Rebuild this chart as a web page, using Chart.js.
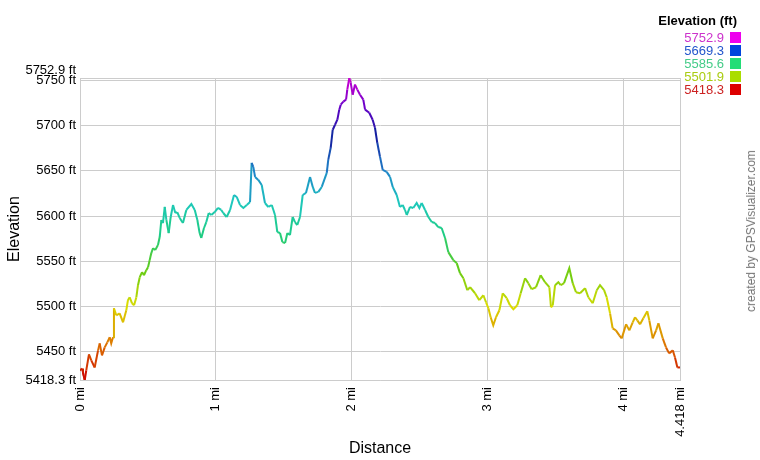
<!DOCTYPE html>
<html>
<head>
<meta charset="utf-8">
<script src="https://cdn.jsdelivr.net/npm/chart.js@4"></script>
<style>
    body { margin: 0; background: #fff; font-family: "Liberation Sans", Arial, sans-serif; }
    #wrap { position: relative; width: 760px; height: 460px; }
    #legend { position: absolute; right: 19px; top: 13px; text-align: right; font-size: 13px; }
    #legend .title { font-weight: bold; color: #000; margin-bottom: 3px; margin-right: 4px; }
    #legend .row { height: 13px; line-height: 13px; }
    #legend .sw { display: inline-block; width: 11px; height: 11px; margin-left: 6px; vertical-align: -1px; }
    #credit { position: absolute; left: 751px; top: 231px; transform: translate(-50%, -50%) rotate(-90deg);
        white-space: nowrap; font-size: 12px; color: #777; }
</style>
</head>
<body>
<div id="wrap">
    <canvas id="chart" width="760" height="460"></canvas>
    <div id="legend"><div class="title">Elevation (ft)</div></div>
    <div id="credit">created by GPSVisualizer.com</div>
</div>
<script>
// distance (mi) and elevation (ft)
const distances = [
    0.000, 0.015, 0.022, 0.035, 0.046, 0.066, 0.083, 0.108, 0.133, 0.145,
    0.162, 0.182, 0.201, 0.219, 0.230, 0.243, 0.250, 0.267, 0.292, 0.317,
    0.341, 0.353, 0.366, 0.383, 0.398, 0.415, 0.427, 0.440, 0.457, 0.471,
    0.488, 0.501, 0.513, 0.525, 0.538, 0.554, 0.574, 0.587, 0.599, 0.611,
    0.624, 0.636, 0.653, 0.668, 0.685, 0.702, 0.716, 0.734, 0.758, 0.783,
    0.820, 0.845, 0.864, 0.881, 0.893, 0.913, 0.930, 0.948, 0.967, 0.992,
    1.016, 1.040, 1.055, 1.080, 1.105, 1.134, 1.154, 1.178, 1.203, 1.228,
    1.252, 1.264, 1.276, 1.289, 1.313, 1.338, 1.362, 1.387, 1.412, 1.436,
    1.453, 1.473, 1.490, 1.510, 1.527, 1.546, 1.566, 1.583, 1.600, 1.620,
    1.640, 1.664, 1.694, 1.714, 1.730, 1.755, 1.780, 1.817, 1.828, 1.846,
    1.861, 1.878, 1.895, 1.909, 1.920, 1.939, 1.959, 1.968, 1.983, 1.993,
    2.008, 2.025, 2.042, 2.062, 2.086, 2.099, 2.130, 2.155, 2.172, 2.189,
    2.209, 2.229, 2.258, 2.283, 2.303, 2.332, 2.356, 2.376, 2.393, 2.406,
    2.430, 2.454, 2.479, 2.499, 2.516, 2.541, 2.565, 2.590, 2.614, 2.638,
    2.663, 2.688, 2.712, 2.749, 2.774, 2.798, 2.823, 2.852, 2.872, 2.909,
    2.940, 2.970, 2.990, 3.007, 3.024, 3.043, 3.063, 3.088, 3.113, 3.142,
    3.166, 3.191, 3.220, 3.245, 3.277, 3.301, 3.326, 3.358, 3.392, 3.424,
    3.456, 3.468, 3.481, 3.498, 3.522, 3.540, 3.564, 3.603, 3.628, 3.652,
    3.682, 3.719, 3.743, 3.775, 3.805, 3.829, 3.859, 3.878, 3.903, 3.922,
    3.946, 3.971, 3.989, 4.021, 4.045, 4.070, 4.087, 4.104, 4.124, 4.148,
    4.177, 4.192, 4.217, 4.242, 4.259, 4.291, 4.315, 4.338, 4.365, 4.381,
    4.399, 4.418
];
const elevations = [
    5428.9, 5431.1, 5426.7, 5418.3, 5429.0, 5446.7, 5440.0, 5432.2, 5451.1, 5458.9,
    5445.6, 5454.4, 5460.0, 5465.6, 5458.9, 5465.6, 5497.8, 5490.0, 5492.2, 5482.2,
    5495.6, 5506.7, 5510.0, 5503.3, 5501.1, 5510.0, 5523.3, 5532.2, 5537.8, 5534.4,
    5540.0, 5543.3, 5551.1, 5558.9, 5564.4, 5562.2, 5567.8, 5576.7, 5595.6, 5592.2,
    5610.0, 5595.6, 5581.1, 5598.9, 5612.2, 5603.3, 5604.4, 5597.8, 5592.2, 5606.7,
    5613.3, 5606.7, 5595.6, 5581.1, 5575.6, 5586.7, 5593.3, 5603.3, 5601.1, 5604.4,
    5608.9, 5606.7, 5603.3, 5598.9, 5606.7, 5623.3, 5621.1, 5612.2, 5608.9, 5612.2,
    5615.6, 5658.9, 5654.4, 5643.3, 5640.0, 5634.4, 5614.4, 5610.0, 5612.2, 5601.1,
    5582.2, 5581.1, 5571.1, 5570.0, 5581.1, 5578.9, 5598.9, 5593.3, 5590.0, 5598.9,
    5623.3, 5625.6, 5643.3, 5632.2, 5625.6, 5626.7, 5632.2, 5647.8, 5662.2, 5675.6,
    5695.6, 5701.1, 5706.7, 5717.8, 5723.3, 5726.7, 5728.9, 5740.0, 5752.9, 5747.8,
    5734.4, 5745.6, 5740.0, 5734.4, 5728.9, 5717.8, 5714.4, 5706.7, 5697.8, 5681.1,
    5665.6, 5651.1, 5648.9, 5643.3, 5632.2, 5623.3, 5610.0, 5612.2, 5606.7, 5601.1,
    5610.0, 5608.9, 5614.4, 5608.9, 5614.4, 5606.7, 5598.9, 5593.3, 5592.2, 5587.8,
    5586.7, 5575.6, 5560.0, 5551.1, 5547.8, 5536.7, 5531.1, 5517.8, 5521.1, 5514.4,
    5506.7, 5512.2, 5504.4, 5497.8, 5487.8, 5478.9, 5487.8, 5495.6, 5514.4, 5508.9,
    5501.1, 5496.7, 5501.1, 5514.4, 5531.1, 5525.6, 5518.9, 5521.1, 5534.4, 5526.7,
    5521.1, 5498.9, 5501.1, 5523.3, 5526.7, 5523.3, 5525.6, 5542.2, 5525.6, 5515.6,
    5514.4, 5520.0, 5510.0, 5503.3, 5517.8, 5523.3, 5517.8, 5510.0, 5492.2, 5475.6,
    5473.3, 5467.8, 5464.4, 5480.0, 5473.3, 5482.2, 5487.8, 5484.4, 5480.0, 5486.7,
    5494.4, 5484.4, 5464.4, 5473.3, 5481.1, 5464.4, 5454.4, 5447.8, 5451.1, 5443.3,
    5432.2, 5432.2
];

const xTicks = [0, 1, 2, 3, 4, 4.418];
const yTicks = [5418.3, 5450, 5500, 5550, 5600, 5650, 5700, 5750, 5752.9];
const legendValues = [5752.9, 5669.3, 5585.6, 5501.9, 5418.3];

// colour ramp of the line, by elevation
const rampStops = [5418.3, 5460, 5500, 5540, 5580, 5615, 5650, 5690, 5720, 5752.9];
const rampColors = [
    [204, 0, 0], [221, 120, 0], [220, 220, 0], [100, 204, 20], [30, 204, 130],
    [30, 200, 190], [30, 130, 200], [20, 30, 160], [100, 0, 200], [210, 0, 210]
];
const legendText = ['#cc33cc', '#2255cc', '#44cc88', '#aacc11', '#cc2222'];
const legendSwatch = ['#ee00ee', '#0044dd', '#22dd77', '#aadd00', '#dd0000'];

function rampColor(v) {
    if (v <= rampStops[0]) return 'rgb(' + rampColors[0].join(',') + ')';
    for (let i = 1; i < rampStops.length; i++) {
        if (v <= rampStops[i]) {
            const t = (v - rampStops[i - 1]) / (rampStops[i] - rampStops[i - 1]);
            const a = rampColors[i - 1], b = rampColors[i];
            return 'rgb(' + a.map((c, k) => Math.round(c + (b[k] - c) * t)).join(',') + ')';
        }
    }
    return 'rgb(' + rampColors[rampColors.length - 1].join(',') + ')';
}

// legend
const legend = document.getElementById('legend');
legendValues.forEach((v, i) => {
    const row = document.createElement('div');
    row.className = 'row';
    row.innerHTML = `<span style="color:${legendText[i]}">${v.toFixed(1)}</span><span class="sw" style="background:${legendSwatch[i]}"></span>`;
    legend.appendChild(row);
});

const tickFont = { family: '"Liberation Sans", Arial, sans-serif', size: 13 };
const gridColor = '#cccccc';

new Chart(document.getElementById('chart'), {
    type: 'line',
    data: {
        datasets: [{
            data: distances.map((d, i) => ({ x: d, y: elevations[i] })),
            borderWidth: 2,
            pointRadius: 0,
            tension: 0,
            segment: {
                borderColor: ctx => rampColor((ctx.p0.parsed.y + ctx.p1.parsed.y) / 2)
            }
        }]
    },
    options: {
        responsive: false,
        animation: false,
        layout: { padding: { top: 78, right: 80, left: 0, bottom: 0 } },
        plugins: { legend: { display: false }, tooltip: { enabled: false } },
        scales: {
            x: {
                type: 'linear',
                min: 0,
                max: 4.418,
                afterBuildTicks: scale => { scale.ticks = xTicks.map(v => ({ value: v })); },
                afterFit: scale => { scale.height = 80; },
                ticks: {
                    autoSkip: false,
                    minRotation: 90,
                    maxRotation: 90,
                    color: '#000',
                    font: tickFont,
                    padding: 7,
                    callback: v => v + ' mi'
                },
                grid: { color: gridColor, drawTicks: false },
                border: { color: gridColor },
                title: {
                    display: true,
                    text: 'Distance',
                    color: '#000',
                    font: { family: tickFont.family, size: 16 },
                    padding: { top: 0, bottom: 2 }
                }
            },
            y: {
                min: 5418.3,
                max: 5752.9,
                afterBuildTicks: scale => { scale.ticks = yTicks.map(v => ({ value: v })); },
                afterFit: scale => { scale.width = 80; },
                ticks: {
                    autoSkip: false,
                    color: '#000',
                    font: tickFont,
                    padding: 4,
                    callback: v => v === 5752.9 ? ['5752.9 ft', ''] : v + ' ft'
                },
                grid: { color: gridColor, drawTicks: false },
                border: { color: gridColor },
                title: {
                    display: true,
                    text: 'Elevation',
                    color: '#000',
                    font: { family: tickFont.family, size: 16 },
                    padding: { top: 5, bottom: 0 }
                }
            }
        }
    }
});
</script>
</body>
</html>
